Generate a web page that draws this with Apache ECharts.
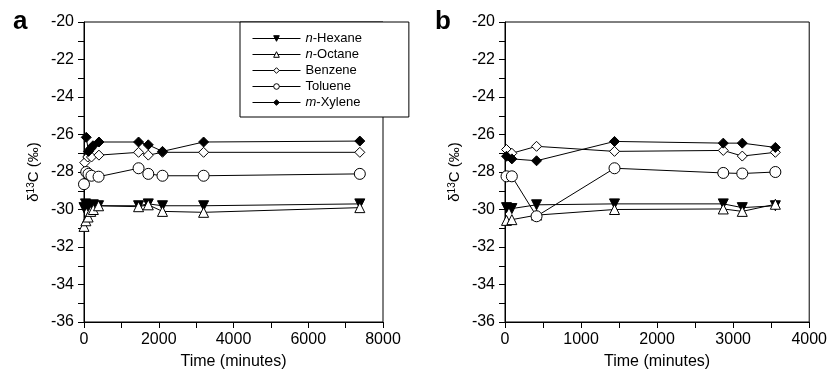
<!DOCTYPE html>
<html>
<head>
<meta charset="utf-8">
<script src="https://cdn.jsdelivr.net/npm/echarts@6/dist/echarts.min.js"></script>
<style>
  html, body { margin: 0; padding: 0; background: #fff; }
  #chart { width: 830px; height: 376px; }
</style>
</head>
<body>
<div id="chart"></div>
<script>
// series names (legend order)
const seriesNames = ["n-Hexane", "n-Octane", "Benzene", "Toluene", "m-Xylene"];

// panel a — time (minutes) and δ13C (‰)
const hexaneTimeA = [0, 40, 100, 170, 250, 390, 1460, 1720, 2100, 3200, 7380];
const hexaneA = [-29.9, -29.7, -29.8, -29.85, -29.75, -29.8, -29.8, -29.7, -29.8, -29.8, -29.7];
const octaneTimeA = [0, 50, 110, 180, 250, 390, 1460, 1720, 2100, 3200, 7380];
const octaneA = [-30.9, -30.6, -30.4, -30.1, -30.0, -29.8, -29.85, -29.75, -30.1, -30.15, -29.9];
const benzeneTimeA = [20, 100, 200, 400, 1460, 1720, 2100, 3200, 7380];
const benzeneA = [-27.5, -27.2, -27.2, -27.1, -26.95, -27.1, -26.95, -26.95, -26.95];
const tolueneTimeA = [0, 60, 120, 200, 390, 1460, 1720, 2100, 3200, 7380];
const tolueneA = [-28.65, -28.0, -28.1, -28.2, -28.25, -27.8, -28.1, -28.2, -28.2, -28.1];
const xyleneTimeA = [60, 120, 180, 240, 400, 1460, 1720, 2100, 3200, 7380];
const xyleneA = [-26.15, -26.9, -26.75, -26.6, -26.4, -26.4, -26.55, -26.9, -26.4, -26.35];

// panel b
const timeB = [20, 90, 415, 1440, 2870, 3120, 3555];
const hexaneB = [-29.9, -29.95, -29.75, -29.7, -29.7, -29.9, -29.8];
const octaneB = [-30.58, -30.54, -30.3, -30.0, -29.97, -30.1, -29.72];
const benzeneB = [-26.8, -27.0, -26.63, -26.9, -26.85, -27.15, -26.95];
const tolueneB = [-28.23, -28.23, -30.36, -27.8, -28.05, -28.08, -28.0];
const xyleneB = [-27.16, -27.3, -27.4, -26.37, -26.46, -26.46, -26.69];

// axis ticks
const yMin = -36, yMax = -20, yStep = 2;
const xMaxA = 8000, xStepA = 2000;
const xMaxB = 4000, xStepB = 1000;

const FONT = "Liberation Sans, Arial, sans-serif";

const markers = {
  "n-Hexane": { symbol: "triangle", rotate: 180, fill: "#000" },
  "n-Octane": { symbol: "triangle", rotate: 0, fill: "#fff" },
  "Benzene": { symbol: "diamond", rotate: 0, fill: "#fff" },
  "Toluene": { symbol: "circle", rotate: 0, fill: "#fff" },
  "m-Xylene": { symbol: "diamond", rotate: 0, fill: "#000" },
};

const zip = (xs, ys) => xs.map((x, i) => [x, ys[i]]);

function makeSeries(name, idx, data) {
  const m = markers[name];
  return {
    name: name,
    type: "line",
    xAxisIndex: idx,
    yAxisIndex: idx,
    data: data,
    symbol: m.symbol,
    symbolRotate: m.rotate,
    symbolSize: name === "Toluene" ? 11 : 10,
    showAllSymbol: true,
    lineStyle: { color: "#000", width: 1 },
    itemStyle: { color: m.fill, borderColor: "#000", borderWidth: 1 },
    emphasis: { disabled: true },
    animation: false,
  };
}

function xAxisOf(idx, max, step) {
  return {
    type: "value",
    gridIndex: idx,
    min: 0,
    max: max,
    interval: step,
    name: "Time (minutes)",
    nameLocation: "middle",
    nameGap: 32,
    nameTextStyle: { fontFamily: FONT, fontSize: 16, color: "#000" },
    axisLine: { lineStyle: { color: "#000", width: 1 } },
    axisTick: { inside: false, length: 6, lineStyle: { color: "#000" } },
    minorTick: { show: true, splitNumber: 2, length: 6, lineStyle: { color: "#000" } },
    splitLine: { show: false },
    axisLabel: { fontFamily: FONT, fontSize: 16, color: "#000", margin: 10, formatter: (v) => String(v) },
  };
}

function yAxisOf(idx) {
  return {
    type: "value",
    gridIndex: idx,
    min: yMin,
    max: yMax,
    interval: yStep,
    name: "{a|δ}{s|13}{a|C (‰)}",
    nameLocation: "middle",
    nameGap: 42,
    nameRotate: 90,
    nameTextStyle: {
      rich: {
        a: { fontFamily: FONT, fontSize: 15, color: "#000" },
        s: { fontFamily: FONT, fontSize: 10, color: "#000", verticalAlign: "top", padding: [0, 0, 6, 0] },
      },
    },
    axisLine: { onZero: false, lineStyle: { color: "#000", width: 1 } },
    axisTick: { inside: false, length: 6, lineStyle: { color: "#000" } },
    minorTick: { show: true, splitNumber: 2, length: 6, lineStyle: { color: "#000" } },
    splitLine: { show: false },
    axisLabel: { fontFamily: FONT, fontSize: 16, color: "#000", margin: 10, formatter: (v) => String(v) },
  };
}

const series = [
  makeSeries("n-Hexane", 0, zip(hexaneTimeA, hexaneA)),
  makeSeries("n-Octane", 0, zip(octaneTimeA, octaneA)),
  makeSeries("Benzene", 0, zip(benzeneTimeA, benzeneA)),
  makeSeries("Toluene", 0, zip(tolueneTimeA, tolueneA)),
  makeSeries("m-Xylene", 0, zip(xyleneTimeA, xyleneA)),
  makeSeries("n-Hexane", 1, zip(timeB, hexaneB)),
  makeSeries("n-Octane", 1, zip(timeB, octaneB)),
  makeSeries("Benzene", 1, zip(timeB, benzeneB)),
  makeSeries("Toluene", 1, zip(timeB, tolueneB)),
  makeSeries("m-Xylene", 1, zip(timeB, xyleneB)),
];

const option = {
  backgroundColor: "#fff",
  animation: false,
  title: [
    { text: "a", left: 8, top: 4, textStyle: { fontFamily: FONT, fontSize: 26, fontWeight: "bold", color: "#000" } },
    { text: "b", left: 430, top: 4, textStyle: { fontFamily: FONT, fontSize: 26, fontWeight: "bold", color: "#000" } },
  ],
  legend: {
    data: seriesNames,
    orient: "vertical",
    left: 240,
    top: 22,
    padding: [10, 47, 8, 12],
    itemWidth: 48,
    itemHeight: 7,
    itemGap: 3,
    borderColor: "#000",
    borderWidth: 1,
    backgroundColor: "#fff",
    lineStyle: { width: 1 },
    itemStyle: { borderWidth: 1 },
    textStyle: {
      fontFamily: FONT, fontSize: 13, color: "#000",
      rich: { i: { fontFamily: FONT, fontSize: 13, fontStyle: "italic", color: "#000" } },
    },
    formatter: (name) => {
      if (name.startsWith("n-")) return "{i|n}-" + name.slice(2);
      if (name.startsWith("m-")) return "{i|m}-" + name.slice(2);
      return name;
    },
    selectedMode: false,
  },
  grid: [
    { left: 84, right: 447, top: 22, bottom: 54, show: true, borderColor: "#000", borderWidth: 1, backgroundColor: "transparent" },
    { left: 505, right: 20, top: 22, bottom: 54, show: true, borderColor: "#000", borderWidth: 1, backgroundColor: "transparent" },
  ],
  xAxis: [xAxisOf(0, xMaxA, xStepA), xAxisOf(1, xMaxB, xStepB)],
  yAxis: [yAxisOf(0), yAxisOf(1)],
  series: series,
};

const chart = echarts.init(document.getElementById("chart"), null, { renderer: "canvas" });
chart.setOption(option);
</script>
</body>
</html>
